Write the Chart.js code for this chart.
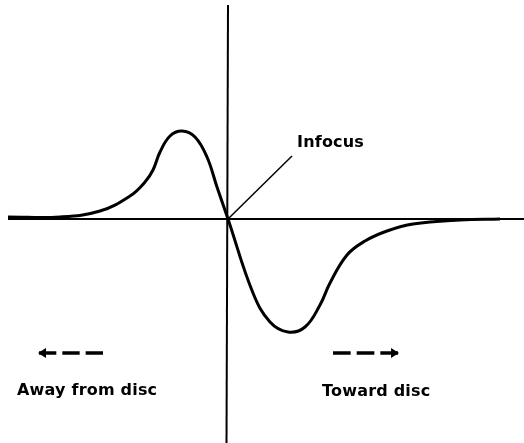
<!DOCTYPE html>
<html>
<head>
<meta charset="utf-8">
<script src="https://cdn.jsdelivr.net/npm/chart.js@4/dist/chart.umd.min.js"></script>
<style>
  html, body { margin: 0; padding: 0; background: #fff; }
  #wrap { width: 524px; height: 443px; position: relative; }
</style>
</head>
<body>
<div id="wrap"><canvas id="c"></canvas></div>
<script>
// Focus error signal against lens displacement (arbitrary units).
const displacement = [-22.0, -16.8, -12.8, -9.8, -8.3, -7.5, -6.8, -5.8, -4.6, -3.3, -2.1, -1.1, 0,
                      2.5, 4.2, 6.0, 7.7, 9.2, 10.2, 11.9, 13.7, 15.9, 18.5, 23.2, 27.2];
const focusError   = [0.2, 0.2, 0.8, 2.3, 3.7, 4.9, 6.7, 8.3, 8.8, 8.2, 6.2, 3.2, 0,
                      -7.4, -10.3, -11.3, -10.8, -8.6, -6.4, -3.6, -2.2, -1.2, -0.5, -0.1, 0];

// Annotation texts
const infocusLabel = 'Infocus';
const awayLabel = 'Away from disc';
const towardLabel = 'Toward disc';

const curve = displacement.map((x, i) => ({ x, y: focusError[i] }));

const annotations = {
  id: 'annotations',
  afterDatasetsDraw(chart) {
    const { ctx, scales: { x, y } } = chart;
    const px = v => x.getPixelForValue(v);
    const py = v => y.getPixelForValue(v);
    ctx.save();
    ctx.fillStyle = '#000';
    ctx.strokeStyle = '#000';
    ctx.textBaseline = 'alphabetic';
    ctx.font = 'bold 16px "DejaVu Sans"';
    ctx.letterSpacing = '0.2px';
    ctx.fillText(infocusLabel, px(6.9), py(7.2));
    ctx.fillText(awayLabel, px(-21.1), py(-17.6));
    ctx.fillText(towardLabel, px(9.4), py(-17.7));

    // dashed direction arrows
    const arrow = (x0, x1, yv, dir) => {
      const a = px(x0), b = px(x1), yy = py(yv);
      const len = b - a, dash = (len - 12) / 3;
      ctx.lineWidth = 3.5;
      ctx.lineCap = 'butt';
      for (let k = 0; k < 3; k++) {
        const s = a + k * (dash + 6);
        ctx.beginPath();
        ctx.moveTo(s, yy);
        ctx.lineTo(s + dash, yy);
        ctx.stroke();
      }
      const tip = dir < 0 ? a - 1 : b + 1;
      ctx.beginPath();
      ctx.moveTo(tip, yy);
      ctx.lineTo(tip - dir * 8, yy - 5);
      ctx.lineTo(tip - dir * 8, yy + 5);
      ctx.closePath();
      ctx.fill();
    };
    arrow(-18.9, -12.5, -13.4, -1);
    arrow(10.5, 17.0, -13.4, 1);
    ctx.restore();
  }
};

new Chart(document.getElementById('c'), {
  type: 'line',
  data: {
    datasets: [
      {
        data: curve,
        borderColor: '#000',
        borderWidth: 3,
        pointRadius: 0,
        tension: 0.4,
        fill: false
      },
      {
        data: [{ x: -22.0, y: 0 }, { x: 29.6, y: 0 }],
        borderColor: '#000', borderWidth: 2, pointRadius: 0, tension: 0
      },
      {
        data: [{ x: 0, y: 21.4 }, { x: -0.15, y: -22.4 }],
        borderColor: '#000', borderWidth: 2, pointRadius: 0, tension: 0
      },
      {
        data: [{ x: 0, y: 0 }, { x: 6.4, y: 6.3 }],
        borderColor: '#000', borderWidth: 1.5, pointRadius: 0, tension: 0
      }
    ]
  },
  options: {
    responsive: true,
    maintainAspectRatio: false,
    animation: false,
    layout: { padding: 0 },
    plugins: { legend: { display: false }, tooltip: { enabled: false } },
    scales: {
      x: { type: 'linear', min: -22.8, max: 29.6, display: false },
      y: { type: 'linear', min: -22.4, max: 21.9, display: false }
    }
  },
  plugins: [annotations]
});
</script>
</body>
</html>
